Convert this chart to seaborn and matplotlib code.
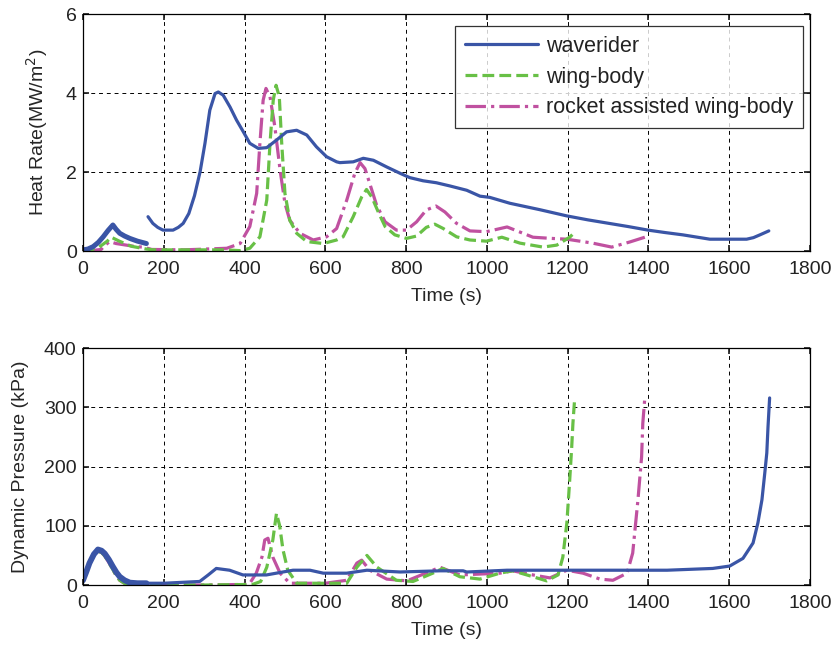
import numpy as np
import pandas as pd
import matplotlib
matplotlib.use("Agg")
import matplotlib.pyplot as plt
import seaborn as sns

# ---- heat rate (MW/m^2) ----
wr_heat_t1 = [0, 12, 25, 38, 50, 62, 74, 82, 91, 103, 116, 135, 157]
wr_heat_q1 = [0.03, 0.05, 0.11, 0.22, 0.36, 0.52, 0.66, 0.55, 0.45, 0.38, 0.32, 0.25, 0.19]
wr_heat_t2 = [161, 173, 185, 198, 223, 236, 248, 262, 276, 290, 302, 314, 327, 335, 347,
              364, 380, 397, 413, 434, 455, 479, 504, 529, 554, 578, 603, 628, 636, 669,
              694, 719, 752, 785, 809, 842, 875, 908, 950, 983, 1007, 1057, 1130, 1198,
              1250, 1297, 1350, 1399, 1440, 1485, 1552, 1600, 1643, 1660, 1676, 1698]
wr_heat_q2 = [0.87, 0.7, 0.6, 0.53, 0.53, 0.6, 0.7, 0.95, 1.4, 2.01, 2.73, 3.57, 3.99, 4.03, 3.95,
              3.65, 3.32, 3.02, 2.73, 2.6, 2.62, 2.81, 3.02, 3.06, 2.94, 2.64, 2.39, 2.26, 2.24, 2.26,
              2.35, 2.3, 2.13, 1.97, 1.86, 1.78, 1.73, 1.65, 1.54, 1.39, 1.36, 1.21, 1.05, 0.89,
              0.79, 0.71, 0.62, 0.53, 0.47, 0.41, 0.3, 0.3, 0.3, 0.34, 0.41, 0.51]

wb_heat_t = [0, 20, 40, 60, 70, 90, 120, 157, 175, 250, 350, 389, 413, 438, 455, 463, 471, 478,
             486, 492, 500, 512, 529, 554, 595, 628, 644, 669, 690, 702, 715, 731, 748, 772,
             801, 826, 850, 871, 892, 925, 958, 999, 1037, 1082, 1139, 1173, 1205, 1212]
wb_heat_q = [0.0, 0.03, 0.1, 0.25, 0.35, 0.25, 0.12, 0.05, 0.03, 0.03, 0.03, 0.01, 0.07, 0.36, 1.29, 2.73, 3.82, 4.2,
             3.91, 2.73, 1.46, 0.78, 0.45, 0.24, 0.19, 0.28, 0.36, 0.87, 1.37, 1.56, 1.37, 0.99, 0.62, 0.41,
             0.32, 0.38, 0.6, 0.68, 0.57, 0.36, 0.28, 0.25, 0.35, 0.2, 0.1, 0.15, 0.35, 0.42]

ra_heat_t = [0, 20, 45, 55, 66, 82, 107, 132, 149, 170, 250, 356, 389, 413, 430, 438, 446, 453,
             463, 475, 488, 500, 512, 537, 570, 603, 628, 653, 673, 686, 698, 710, 727, 748,
             776, 801, 826, 850, 874, 896, 925, 958, 999, 1050, 1114, 1160, 1198, 1262, 1309,
             1354, 1391]
ra_heat_q = [0.0, 0.01, 0.04, 0.15, 0.24, 0.19, 0.15, 0.11, 0.1, 0.04, 0.03, 0.07, 0.19, 0.62, 1.46, 2.73, 3.82, 4.12,
             3.91, 3.15, 2.05, 1.21, 0.78, 0.45, 0.28, 0.36, 0.57, 1.29, 1.97, 2.24, 2.09, 1.71, 1.16, 0.74,
             0.53, 0.53, 0.74, 1.04, 1.14, 0.99, 0.7, 0.51, 0.49, 0.61, 0.35, 0.32, 0.3, 0.2, 0.1,
             0.23, 0.35]

# ---- dynamic pressure (kPa) ----
wr_dp_t = [0, 8, 16, 27, 37, 46, 54, 64, 74, 83, 91, 103, 116, 135, 157, 200, 289, 310, 330,
           363, 396, 454, 495, 520, 562, 595, 653, 703, 785, 884, 941, 950, 1050, 1446, 1559,
           1601, 1634, 1659, 1671, 1681, 1688, 1693, 1696, 1700]
wr_dp_q = [8, 22, 37, 52, 60, 58, 53, 43, 31, 21, 14, 8, 4, 3, 3, 3, 6, 17, 28,
           25, 17, 17, 22, 25, 25, 20, 20, 25, 22, 24, 24, 22, 25, 25, 28,
           32, 45, 71, 105, 144, 189, 223, 267, 316]

wb_dp_t = [0, 8, 16, 27, 37, 46, 54, 64, 74, 83, 91, 107, 130, 160, 300, 420, 440, 455, 470, 479,
           487, 495, 507, 529, 600, 653, 678, 703, 728, 776, 817, 866, 891, 933, 983, 1032, 1064,
           1114, 1148, 1176, 1188, 1198, 1205, 1210, 1213, 1217]
wb_dp_q = [8, 22, 36, 50, 57, 55, 49, 38, 26, 15, 8, 1, 0, 0, 0, 1, 6, 30, 76, 121,
           100, 60, 25, 3, 3, 3, 30, 50, 30, 8, 6, 20, 28, 14, 10, 20, 24,
           14, 7, 17, 47, 105, 177, 233, 273, 312]

ra_dp_t = [0, 8, 16, 27, 37, 46, 54, 64, 74, 83, 91, 107, 130, 160, 300, 400, 413, 429, 443, 450,
           458, 470, 488, 512, 600, 653, 678, 690, 710, 752, 802, 866, 884, 933, 1032, 1064, 1114,
           1156, 1198, 1238, 1280, 1312, 1347, 1361, 1374, 1383, 1386, 1391]
ra_dp_q = [8, 22, 36, 50, 57, 55, 49, 38, 26, 15, 8, 1, 0, 0, 0, 1, 3, 20, 47, 76,
           79, 47, 20, 3, 3, 8, 37, 42, 25, 10, 7, 25, 30, 17, 20, 24, 17,
           12, 25, 20, 10, 8, 20, 54, 144, 216, 273, 316]

series_labels = ["waverider", "wing-body", "rocket assisted wing-body"]
x_ticks = list(range(0, 1801, 200))
heat_ticks = [0, 2, 4, 6]
dp_ticks = [0, 100, 200, 300, 400]

BLUE = "#3a55a6"
GREEN = "#68c046"
PINK = "#c051a0"

sns.set_theme(style="white")
plt.rcParams["font.family"] = ["Liberation Sans", "DejaVu Sans"]
plt.rcParams["text.color"] = "#222222"

fig = plt.figure(figsize=(8.4, 6.47), dpi=100)
ax1 = fig.add_axes([0.0988, 0.612, 0.8655, 0.366])
ax2 = fig.add_axes([0.0988, 0.0958, 0.8655, 0.366])

lw = 2.3

def draw(ax, t, v, color, ls, label=None, width=lw):
    sns.lineplot(x=t, y=v, ax=ax, color=color, linestyle=ls, linewidth=width,
                 label=label, sort=False, estimator=None, legend=False)

# heat rate panel
draw(ax1, ra_heat_t, ra_heat_q, PINK, "-.", series_labels[2])
draw(ax1, wb_heat_t, wb_heat_q, GREEN, "--", series_labels[1])
draw(ax1, wr_heat_t1, wr_heat_q1, BLUE, "-", None, width=3.6)
draw(ax1, wr_heat_t2, wr_heat_q2, BLUE, "-", series_labels[0])

# dynamic pressure panel
draw(ax2, ra_dp_t, ra_dp_q, PINK, "-.")
draw(ax2, wb_dp_t, wb_dp_q, GREEN, "--")
draw(ax2, wr_dp_t[:15], wr_dp_q[:15], BLUE, "-", width=4.2)
draw(ax2, wr_dp_t[14:], wr_dp_q[14:], BLUE, "-")

for ax, yt, ylab in [(ax1, heat_ticks, "Heat Rate(MW/m$^2$)"),
                     (ax2, dp_ticks, "Dynamic Pressure (kPa)")]:
    ax.set_xlim(0, 1800)
    ax.set_ylim(yt[0], yt[-1])
    ax.set_xticks(x_ticks)
    ax.set_yticks(yt)
    ax.set_xlabel("Time (s)", fontsize=14, labelpad=7)
    ax.set_ylabel(ylab, fontsize=14, labelpad=11)
    ax.tick_params(axis="both", which="both", direction="in", length=4,
                   labelsize=14, colors="#222222", top=True, right=True,
                   bottom=True, left=True)
    ax.tick_params(axis="x", pad=7.5)
    ax.tick_params(axis="y", pad=4.5)
    ax.grid(True, color="black", linestyle=(0, (4, 4)), linewidth=0.7)
    for s in ax.spines.values():
        s.set_color("black")
        s.set_linewidth(0.9)
        s.set_visible(True)

handles, labels = ax1.get_legend_handles_labels()
order = [labels.index(n) for n in series_labels]
leg = ax1.legend([handles[i] for i in order], [labels[i] for i in order],
                 loc="upper right", fontsize=15.5, handlelength=3.4,
                 handletextpad=0.35, frameon=True, fancybox=False, edgecolor="black",
                 borderpad=0.45, labelspacing=0.45, borderaxespad=0,
                 bbox_to_anchor=(0.990, 0.949))
leg.get_frame().set_linewidth(0.9)

fig.savefig("out.png", dpi=100)
